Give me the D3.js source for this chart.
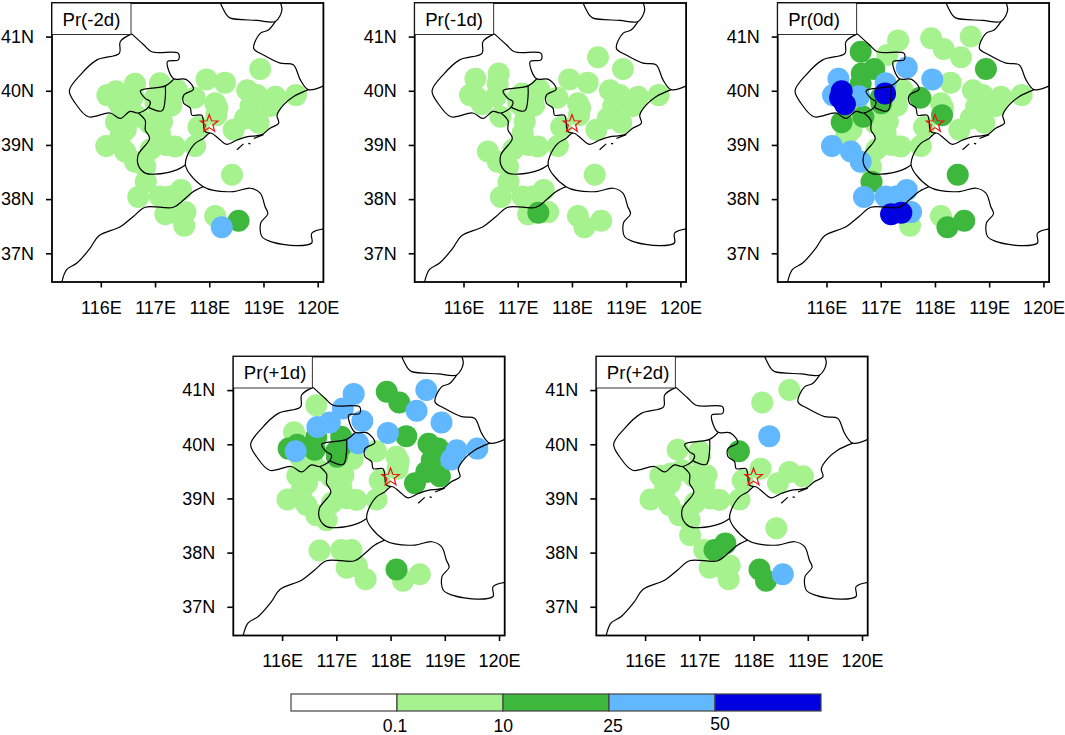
<!DOCTYPE html>
<html>
<head>
<meta charset="utf-8">
<script src="https://cdn.jsdelivr.net/npm/d3@7"></script>
<style>
	html, body { margin: 0; padding: 0; background: #fff; }
	svg { display: block; }
	text { font-family: "Liberation Sans", Arial, sans-serif; fill: #000; }
</style>
</head>
<body>
<svg id="chart"></svg>
<script>
'use strict'

// station positions
var stationLon = [
	116.63, 117.32, 117.12, 116.65, 116.88, 117.48, 117.95, 118.29, 117.93, 118.16,
	118.48, 118.66, 118.94, 116.22, 116.12, 116.28, 116.25, 116.34, 116.60, 116.63,
	117.08, 117.09, 117.01, 117.00, 117.40, 117.30, 117.73, 118.11, 118.13, 118.15,
	118.70, 118.88, 119.22, 119.60, 118.76, 119.12, 118.66, 118.91, 118.45, 117.80,
	117.13, 116.28, 116.68, 116.46, 116.10, 116.45, 116.63, 116.82, 116.92, 117.09,
	117.37, 117.74, 117.20, 118.42, 116.83, 116.69, 117.09, 117.28, 117.48, 117.19,
	117.38, 117.56, 117.54, 118.11, 118.23, 118.54, 116.55, 116.48, 117.14, 116.90,
	116.36
];
var stationLat = [
	40.72, 40.93, 40.66, 40.32, 40.40, 40.43, 40.21, 40.15, 40.97, 40.77,
	40.62, 41.00, 40.40, 40.22, 39.92, 39.99, 39.87, 39.75, 39.90, 40.13,
	39.95, 40.14, 39.77, 39.87, 40.02, 39.73, 39.87, 39.77, 39.55, 39.68,
	40.01, 39.92, 39.89, 39.92, 39.71, 39.72, 39.49, 39.41, 39.28, 39.33,
	39.43, 39.42, 39.52, 39.28, 38.98, 38.88, 38.69, 38.60, 38.92, 39.22,
	38.97, 38.98, 39.00, 38.45, 38.32, 38.04, 38.05, 38.05, 38.17, 37.72,
	37.75, 37.76, 37.51, 37.69, 37.48, 37.60, 39.70, 39.46, 39.62, 39.40,
	39.15
];

// precipitation at each station, estimated from the colour class (0 = below 0.1)
var prMinus2 = [
	0, 0, 0, 0, 0, 0, 5, 5, 0, 0,
	0, 0, 5, 0, 5, 5, 5, 5, 5, 5,
	5, 5, 5, 5, 5, 5, 5, 5, 5, 5,
	5, 5, 5, 5, 5, 5, 5, 5, 5, 5,
	5, 5, 5, 5, 5, 5, 5, 5, 5, 5,
	5, 5, 5, 5, 5, 5, 5, 5, 5, 5,
	5, 5, 5, 5, 35, 15, 5, 5, 5, 5,
	5
];
var prMinus1 = [
	0, 0, 0, 5, 0, 0, 5, 5, 0, 0,
	5, 0, 5, 5, 5, 0, 5, 5, 5, 5,
	5, 0, 5, 5, 5, 5, 5, 5, 5, 5,
	5, 5, 5, 5, 5, 5, 5, 5, 5, 5,
	5, 0, 5, 0, 0, 5, 5, 5, 5, 5,
	5, 5, 5, 5, 5, 5, 5, 5, 5, 5,
	15, 5, 0, 5, 5, 5, 0, 0, 5, 0,
	0
];
var prZero = [
	15, 5, 5, 15, 15, 35, 35, 5, 5, 5,
	5, 5, 15, 35, 35, 60, 60, 60, 35, 15,
	60, 35, 15, 15, 5, 5, 15, 5, 15, 5,
	5, 5, 5, 5, 5, 5, 5, 5, 5, 5,
	5, 15, 15, 5, 35, 35, 35, 5, 5, 5,
	5, 5, 5, 15, 15, 35, 35, 35, 35, 60,
	60, 35, 5, 5, 15, 15, 5, 5, 5, 5,
	5
];
var prPlus1 = [
	5, 35, 35, 35, 35, 35, 35, 15, 15, 15,
	35, 35, 35, 5, 15, 15, 35, 5, 15, 15,
	15, 15, 15, 15, 35, 5, 5, 5, 5, 5,
	15, 15, 35, 35, 15, 35, 15, 15, 15, 5,
	5, 5, 5, 5, 5, 5, 5, 5, 5, 5,
	5, 5, 5, 0, 0, 5, 5, 5, 0, 5,
	5, 0, 5, 15, 5, 5, 5, 5, 5, 5,
	5
];
var prPlus2 = [
	0, 0, 0, 0, 0, 0, 0, 35, 0, 5,
	0, 5, 0, 0, 0, 0, 0, 0, 5, 0,
	0, 0, 5, 5, 0, 0, 15, 0, 5, 0,
	0, 0, 0, 0, 0, 0, 5, 5, 5, 5,
	5, 5, 5, 5, 5, 5, 5, 5, 5, 5,
	5, 5, 5, 5, 5, 0, 5, 15, 15, 5,
	5, 5, 5, 15, 15, 35, 0, 5, 0, 5,
	5
];

var panelTitles = ["Pr(-2d)", "Pr(-1d)", "Pr(0d)", "Pr(+1d)", "Pr(+2d)"];
var panelSeries = [prMinus2, prMinus1, prZero, prPlus1, prPlus2];

var lonTicks = [116, 117, 118, 119, 120];
var latTicks = [37, 38, 39, 40, 41];

var levels = [0.1, 10, 25, 50];
var levelLabels = ["0.1", "10", "25", "50"];
var levelColors = ["#ffffff", "#a6f28f", "#3db83d", "#61b8ff", "#0000e1"];

// boundaries, lon/lat pairs
var boundaries = [
	[[118.20, 41.63], [118.32, 41.40], [118.39, 41.34], [118.88, 41.30], [119.22, 41.28], [119.34, 41.49], [119.31, 41.63]],
	[[119.22, 41.28], [119.09, 41.12], [118.94, 41.06], [118.82, 40.78], [119.00, 40.66], [119.31, 40.51], [119.55, 40.48], [119.68, 40.20], [119.83, 40.02], [120.11, 40.09]],
	[[119.83, 40.02], [119.55, 39.89], [119.37, 39.74], [119.25, 39.55], [119.28, 39.40], [119.12, 39.31], [118.97, 39.19], [118.69, 39.15], [118.51, 39.09], [118.32, 39.01], [118.17, 39.12], [118.02, 39.22], [117.89, 39.12], [117.74, 39.03], [117.59, 38.79], [117.56, 38.63], [117.65, 38.45], [117.89, 38.23], [118.08, 38.16], [118.45, 38.14], [118.76, 38.20], [118.94, 38.11], [119.03, 37.86], [119.08, 37.73], [118.95, 37.56], [118.97, 37.31], [119.12, 37.22], [119.62, 37.14], [119.89, 37.19], [119.89, 37.37], [120.11, 37.45]],
	[[117.89, 38.23], [117.71, 38.14], [117.53, 37.99], [117.34, 37.85], [116.82, 37.85], [116.60, 37.68], [116.36, 37.49], [115.96, 37.32], [115.80, 37.09], [115.56, 36.82], [115.37, 36.70], [115.28, 36.46]],
	[[116.57, 41.05], [116.36, 40.91], [116.34, 40.69], [115.93, 40.57], [115.62, 40.29], [115.42, 40.00], [115.53, 39.77], [115.77, 39.52], [116.17, 39.59], [116.36, 39.49], [116.54, 39.62], [116.69, 39.59], [116.88, 39.70], [116.91, 39.80], [116.82, 39.86], [116.73, 40.00], [117.19, 40.09], [117.35, 40.22]],
	[[116.57, 41.05], [116.79, 40.85], [116.94, 40.72], [117.43, 40.69], [117.43, 40.57], [117.23, 40.54], [117.25, 40.38], [117.35, 40.22], [117.57, 40.21], [117.71, 40.03], [117.53, 39.92], [117.53, 39.77], [117.65, 39.68], [117.68, 39.55], [117.86, 39.55], [117.89, 39.46], [117.92, 39.25], [118.02, 39.22]],
	[[117.19, 40.09], [117.19, 39.89], [117.13, 39.63], [116.91, 39.68], [116.88, 39.70]],
	[[116.69, 39.59], [116.82, 39.45], [116.82, 39.28], [116.90, 39.12], [116.69, 38.82], [116.69, 38.63], [116.82, 38.48], [117.00, 38.46], [117.40, 38.54], [117.56, 38.63]],
	[[118.51, 38.91], [118.63, 39.02]],
	[[118.72, 39.03], [118.76, 39.02]],
	[[118.82, 39.12], [119.00, 39.19]]
];

var starLon = 118.0, starLat = 39.39;

var WIDTH = 1065, HEIGHT = 735;
var PANEL_W = 271.4, PANEL_H = 279;
var panelLeft = [52, 414.7, 777.7, 233.3, 596.3];
var panelTop = [3, 3, 3, 356.5, 356.5];

var svg = d3.select("#chart").attr("width", WIDTH).attr("height", HEIGHT);

var lonScale = d3.scaleLinear().domain([115.1, 120.105]).range([0, PANEL_W]);
var latScale = d3.scaleLinear().domain([36.47, 41.62]).range([PANEL_H, 0]);
var colorScale = d3.scaleThreshold().domain(levels).range(levelColors);

var boundaryLine = d3.line()
	.x(function (d) { return lonScale(d[0]); })
	.y(function (d) { return latScale(d[1]); })
	.curve(d3.curveCatmullRom.alpha(0.5));

var starPath = d3.line()(d3.range(10).map(function (i) {
	var r = i % 2 == 0 ? 9.2 : 3.8;
	var a = i * Math.PI / 5;
	return [r * Math.sin(a), -r * Math.cos(a)];
})) + "Z";

panelTitles.forEach(function (title, p) {
	var values = panelSeries[p];
	var g = svg.append("g")
		.attr("transform", "translate(" + panelLeft[p] + "," + panelTop[p] + ")");

	g.append("clipPath")
		.attr("id", "clip" + p)
		.append("rect")
		.attr("width", PANEL_W)
		.attr("height", PANEL_H);

	var body = g.append("g").attr("clip-path", "url(#clip" + p + ")");

	// higher classes are painted last
	var order = d3.range(values.length)
		.filter(function (i) { return values[i] >= levels[0]; })
		.sort(function (a, b) { return d3.ascending(values[a], values[b]) || a - b; });

	body.selectAll(".station")
		.data(order)
		.enter()
		.append("circle")
		.attr("class", "station")
		.attr("cx", function (i) { return lonScale(stationLon[i]); })
		.attr("cy", function (i) { return latScale(stationLat[i]); })
		.attr("r", 11)
		.style("fill", function (i) { return colorScale(values[i]); });

	body.selectAll(".boundary")
		.data(boundaries)
		.enter()
		.append("path")
		.attr("class", "boundary")
		.attr("d", boundaryLine)
		.style("fill", "none")
		.style("stroke", "#000")
		.style("stroke-width", 1.2);

	g.append("path")
		.attr("d", starPath)
		.attr("transform", "translate(" + lonScale(starLon) + "," + latScale(starLat) + ")")
		.style("fill", "none")
		.style("stroke", "#f01010")
		.style("stroke-width", 1.2);

	var xAxis = d3.axisBottom(lonScale)
		.tickValues(lonTicks)
		.tickSize(5.5)
		.tickPadding(13.7)
		.tickFormat(function (d) { return d + "E"; });
	var yAxis = d3.axisLeft(latScale)
		.tickValues(latTicks)
		.tickSize(6)
		.tickPadding(12)
		.tickFormat(function (d) { return d + "N"; });

	var xg = g.append("g").attr("transform", "translate(0," + PANEL_H + ")").call(xAxis);
	var yg = g.append("g").call(yAxis);
	[xg, yg].forEach(function (a) {
		a.select(".domain").remove();
		a.selectAll("line").style("stroke", "#000").style("stroke-width", 1.6);
		a.selectAll("text")
			.style("font-family", '"Liberation Sans", Arial, sans-serif')
			.style("font-size", "18px")
			.style("fill", "#000");
	});

	g.append("rect")
		.attr("width", PANEL_W)
		.attr("height", PANEL_H)
		.style("fill", "none")
		.style("stroke", "#000")
		.style("stroke-width", 1.8);

	// title box in the top left corner
	g.append("rect")
		.attr("width", 79)
		.attr("height", 31.5)
		.style("fill", "#fff")
		.style("stroke", "#000")
		.style("stroke-width", 0.8);

	g.append("text")
		.attr("x", 10.5)
		.attr("y", 22.5)
		.style("font-size", "18.6px")
		.text(title);
});

// colour bar
var barX = d3.scaleLinear().domain([0, levelColors.length]).range([291, 821]);
var barTop = 694, barH = 17;

svg.selectAll(".bar")
	.data(levelColors)
	.enter()
	.append("rect")
	.attr("class", "bar")
	.attr("x", function (d, i) { return barX(i); })
	.attr("y", barTop)
	.attr("width", barX(1) - barX(0))
	.attr("height", barH)
	.style("fill", function (d) { return d; })
	.style("stroke", "#444")
	.style("stroke-width", 1.2);

var labelDx = [-2, 0.3, 4, 5];
var labelY = [732, 732, 732, 730];

svg.selectAll(".barlabel")
	.data(levelLabels)
	.enter()
	.append("text")
	.attr("class", "barlabel")
	.attr("x", function (d, i) { return barX(i + 1) + labelDx[i]; })
	.attr("y", function (d, i) { return labelY[i]; })
	.attr("text-anchor", "middle")
	.style("font-size", "17.6px")
	.text(function (d) { return d; });
</script>
</body>
</html>
